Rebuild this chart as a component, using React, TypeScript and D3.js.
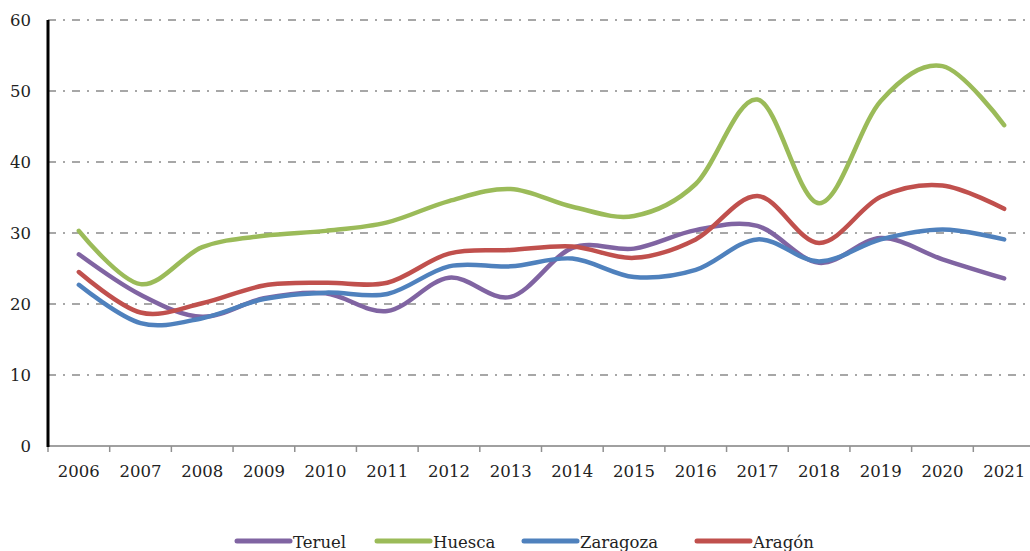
import React from 'react';
import * as d3 from 'd3';

const years = ['2006', '2007', '2008', '2009', '2010', '2011', '2012', '2013', '2014', '2015', '2016', '2017', '2018', '2019', '2020', '2021'];
const teruel = [27.0, 21.3, 18.2, 20.8, 21.5, 19.0, 23.7, 21.0, 27.9, 27.8, 30.4, 31.0, 25.8, 29.3, 26.3, 23.6];
const huesca = [30.3, 22.8, 28.0, 29.6, 30.3, 31.5, 34.5, 36.2, 33.7, 32.4, 36.9, 48.8, 34.2, 48.6, 53.5, 45.2];
const zaragoza = [22.7, 17.3, 18.0, 20.7, 21.6, 21.4, 25.3, 25.3, 26.4, 23.8, 24.8, 29.1, 26.0, 29.1, 30.5, 29.1];
const aragon = [24.5, 18.8, 20.1, 22.6, 23.0, 23.0, 27.1, 27.6, 28.1, 26.5, 29.1, 35.2, 28.6, 35.1, 36.7, 33.4];
const yTicks = [0, 10, 20, 30, 40, 50, 60];

const seriesList = [
  { name: 'Teruel', values: teruel, color: '#8064A2' },
  { name: 'Huesca', values: huesca, color: '#9BBB59' },
  { name: 'Zaragoza', values: zaragoza, color: '#4F81BD' },
  { name: 'Aragón', values: aragon, color: '#C0504D' },
];
// draw order so that red/blue sit on top like the original
const drawOrder = ['Huesca', 'Teruel', 'Aragón', 'Zaragoza'];

const width = 1030;
const height = 551;
const left = 48;
const right = 1035;
const top = 20;
const bottom = 446;
const font = 'DejaVu Serif, serif';

export default function App() {
  const x = d3.scaleBand<string>().domain(years).range([left, right]);
  const y = d3.scaleLinear().domain([0, 60]).range([bottom, top]);
  const cx = (i: number) => (x(years[i]) as number) + x.bandwidth() / 2;

  const line = d3
    .line<number>()
    .x((_, i) => cx(i))
    .y((d) => y(d))
    .curve(d3.curveCatmullRom.alpha(0));

  const boundaries = years.map((yr) => x(yr) as number).concat([right]);

  const legendItems = [
    { s: seriesList[0], lx: 237 },
    { s: seriesList[1], lx: 377 },
    { s: seriesList[2], lx: 524 },
    { s: seriesList[3], lx: 697 },
  ];

  return (
    <svg width={width} height={height} style={{ position: 'absolute', left: 0, top: 0 }}>
      <rect width={width} height={height} fill="#fff" />
      {/* grid lines */}
      {yTicks.filter((t) => t > 0).map((t) => (
        <line key={t} x1={left} x2={width} y1={y(t)} y2={y(t)} stroke="#8a8a8a" strokeWidth={1.4} strokeDasharray="8,7,2,7" />
      ))}
      {/* x axis */}
      <line x1={left} x2={width} y1={bottom} y2={bottom} stroke="#a0a0a0" strokeWidth={2} />
      {boundaries.map((bx, i) => (
        <line key={i} x1={bx} x2={bx} y1={bottom} y2={bottom + 6} stroke="#909090" strokeWidth={1.5} />
      ))}
      {years.map((yr, i) => (
        <text key={yr} x={cx(i)} y={477} textAnchor="middle" fontFamily={font} fontSize={16.5} fill="#222">
          {yr}
        </text>
      ))}
      {/* y axis */}
      <line x1={left} x2={left} y1={top} y2={bottom + 1} stroke="#000" strokeWidth={3} />
      {yTicks.map((t) => (
        <text key={t} x={31} y={y(t) + 6} textAnchor="end" fontFamily={font} fontSize={16.5} fill="#222">
          {t}
        </text>
      ))}
      {/* series */}
      {drawOrder.map((n) => {
        const s = seriesList.find((d) => d.name === n)!;
        return (
          <path key={n} d={line(s.values) || ''} fill="none" stroke={s.color} strokeWidth={4.5} strokeLinecap="round" strokeLinejoin="round" />
        );
      })}
      {/* legend */}
      {legendItems.map(({ s, lx }) => (
        <g key={s.name}>
          <line x1={lx} x2={lx + 53} y1={541} y2={541} stroke={s.color} strokeWidth={5} strokeLinecap="round" />
          <text x={lx + 56} y={548} fontFamily={font} fontSize={16.5} fill="#222">
            {s.name}
          </text>
        </g>
      ))}
    </svg>
  );
}
